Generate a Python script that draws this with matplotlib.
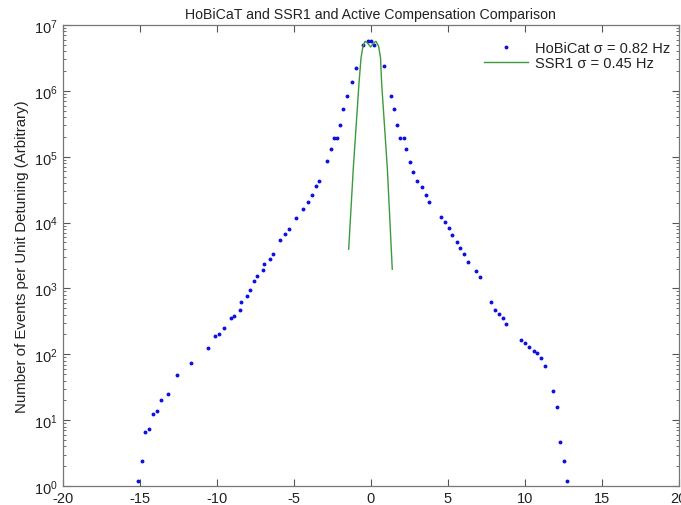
import matplotlib
matplotlib.use("Agg")
import matplotlib.pyplot as plt
from matplotlib.ticker import LogLocator, FixedLocator

plt.rcParams['font.family'] = ['Liberation Sans', 'DejaVu Sans']
plt.rcParams['mathtext.fontset'] = 'custom'
plt.rcParams['mathtext.rm'] = 'Liberation Sans'
plt.rcParams['axes.unicode_minus'] = False

title = "HoBiCaT and SSR1 and Active Compensation Comparison"
ylabel = "Number of Events per Unit Detuning (Arbitrary)"
label_hobicat = "HoBiCat \u03c3 = 0.82 Hz"
label_ssr1 = "SSR1 \u03c3 = 0.45 Hz"

hobicat_x = [-15.13, -14.85, -14.66, -14.38, -14.12, -13.90, -13.64, -13.16, -12.58, -11.65,
             -10.56, -10.11, -9.83, -9.55, -9.07, -8.88, -8.51, -8.42, -8.03, -7.86,
             -7.56, -7.36, -7.01, -6.91, -6.54, -6.34, -5.87, -5.56, -5.31, -4.83,
             -4.38, -4.07, -3.81, -3.57, -3.34, -2.86, -2.56, -2.36, -2.17, -1.97,
             -1.77, -1.52, -1.21, -0.95, -0.48, -0.19, 0.02, 0.21, 0.86, 1.32,
             1.49, 1.71, 1.90, 2.18, 2.29, 2.55, 2.75, 3.03, 3.31, 3.61,
             3.79, 4.56, 4.82, 5.10, 5.30, 5.60, 5.78, 6.08, 6.34, 6.82,
             7.12, 7.83, 8.05, 8.31, 8.61, 8.79, 9.74, 10.04, 10.30, 10.60,
             10.78, 11.08, 11.34, 11.82, 12.12, 12.29, 12.57, 12.77]
hobicat_y = [1.18, 2.40, 6.57, 7.3, 12.2, 13.7, 19.9, 25.4, 48.4, 74.5,
             125, 187, 204, 251, 352, 378, 472, 625, 780, 940,
             1318, 1572, 1920, 2393, 2782, 3317, 5495, 6683, 7962, 11590,
             16040, 20500, 26600, 35560, 43400, 85500, 131500, 191400, 191400, 301500,
             528000, 825000, 1346000, 2200000, 4930000, 5660000, 5660000, 4930000, 2360000, 825000,
             528000, 305000, 191400, 191400, 131500, 84600, 58700, 43400, 35200, 26600,
             20500, 12130, 10180, 8360, 6390, 5050, 4050, 3317, 2540, 1828,
             1502, 625, 472, 410, 361, 285, 165, 149, 129, 111,
             106, 88.8, 66.4, 27.9, 15.8, 4.72, 2.38, 1.18]

ssr1_x = [-1.43, -1.13, -0.76, -0.63, -0.50, -0.37, -0.21, 0.0, 0.18, 0.34, 0.51, 0.64, 0.71, 1.08, 1.40]
ssr1_y = [3950, 66800, 1310000, 3160000, 4800000, 5660000, 5340000, 4640000, 5340000, 5660000,
          4800000, 3160000, 1310000, 66800, 1960]

xticks = [-20, -15, -10, -5, 0, 5, 10, 15, 20]

fig = plt.figure(figsize=(6.81, 5.06), dpi=100)
ax = fig.add_axes([0.0921, 0.0375, 0.9045, 0.911])

ax.plot(hobicat_x, hobicat_y, linestyle='none', marker='.', markersize=3.6,
        color='#1010e0', label=label_hobicat)
ax.plot(ssr1_x, ssr1_y, color='#3c9a3c', linewidth=1.0, label=label_ssr1)

ax.set_yscale('log')
ax.set_xlim(-20, 20)
ax.set_ylim(1, 1e7)
ax.xaxis.set_major_locator(FixedLocator(xticks))
ax.yaxis.set_major_locator(LogLocator(base=10, numticks=10))
ax.yaxis.set_minor_locator(LogLocator(base=10, subs=range(2, 10), numticks=100))

ax.tick_params(which='both', direction='in', top=True, right=True, colors='#555555',
               labelcolor='#222222', labelsize=10.5)
ax.tick_params(which='major', length=5)
ax.tick_params(which='minor', length=2.5)
for s in ax.spines.values():
    s.set_color('#777777')
    s.set_linewidth(0.9)

ax.set_title(title, fontsize=10.2, color='#222222', pad=5)
ax.set_ylabel(ylabel, fontsize=10.8, color='#222222', labelpad=4)

leg = ax.legend(loc='upper right', frameon=False, fontsize=10.5, handlelength=3.0,
                handletextpad=0.45, borderaxespad=0.2, labelspacing=0.12,
                bbox_to_anchor=(1.0, 0.985), markerscale=1.0)
for t in leg.get_texts():
    t.set_color('#222222')

fig.savefig('out.png', dpi=100)
